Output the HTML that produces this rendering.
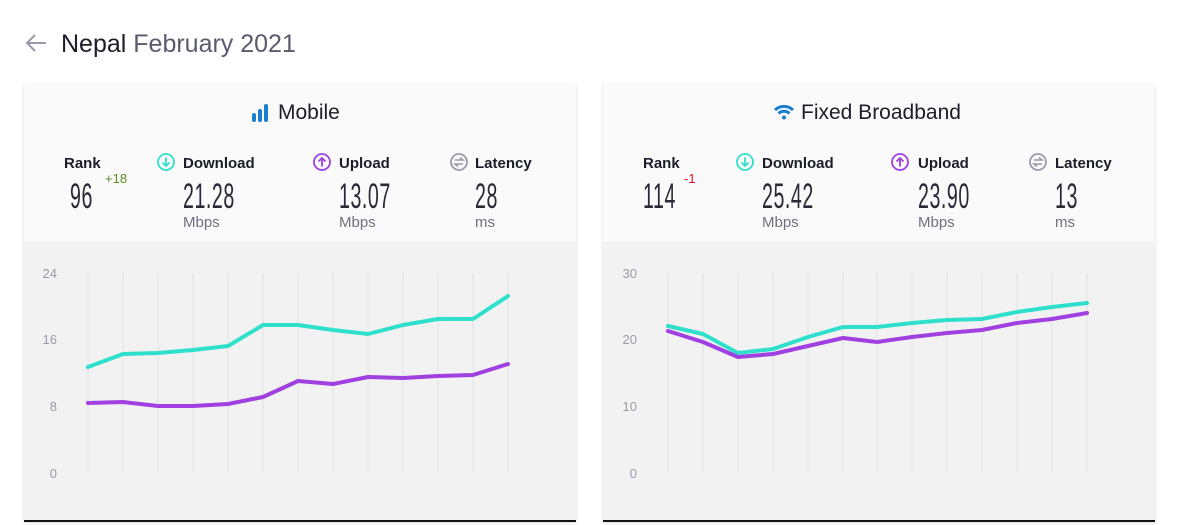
<!DOCTYPE html>
<html><head><meta charset="utf-8"><style>
*{margin:0;padding:0;box-sizing:border-box}
body{width:1179px;height:525px;background:#fff;font-family:"Liberation Sans",sans-serif;position:relative;overflow:hidden}
.a{position:absolute;white-space:nowrap}
.card{position:absolute;top:84px;width:552px;height:438px;background:#fafafa;box-shadow:0 1px 3px rgba(0,0,0,.15);border-bottom:2px solid #111}
.gray{position:absolute;left:0;top:158px;width:100%;height:278px;background:#f2f2f2}
.title{font-size:21px;color:#1c1c2a}
.lab{font-size:15px;font-weight:bold;color:#1c1c2a}
.num{font-size:35px;color:#2a2a36;transform:scaleX(.56);transform-origin:left top;letter-spacing:1px}
.unit{font-size:15px;color:#6f6f80}
.yl{font-size:12px;color:#9a9aa8;text-align:right;width:30px}
</style></head><body>
<svg class="a" style="left:24px;top:33px" width="24" height="20"><path d="M22 10H3M11 2L3 10L11 18" stroke="#9a9aaa" stroke-width="2" fill="none"/></svg>
<div class="a" style="left:61px;top:30px;font-size:25px;color:#1c1c2a">Nepal <span style="color:#5a5a6e">February 2021</span></div>

<div class="card" style="left:24px"><div class="gray"></div></div>
<div class="card" style="left:603px"><div class="gray"></div></div>

<svg class="a" style="left:0;top:0" width="1179" height="525">
<defs>
<g id="dl"><circle cx="9" cy="9" r="8" fill="none" stroke="#2ee0cc" stroke-width="1.8"/><path d="M9 4.5V13M5.5 9.5L9 13L12.5 9.5" stroke="#2ee0cc" stroke-width="1.8" fill="none"/></g>
<g id="ul"><circle cx="9" cy="9" r="8" fill="none" stroke="#a040e0" stroke-width="1.8"/><path d="M9 13.5V5M5.5 8.5L9 5L12.5 8.5" stroke="#a040e0" stroke-width="1.8" fill="none"/></g>
<g id="lt"><circle cx="9" cy="9" r="8" fill="none" stroke="#9a9aaa" stroke-width="1.8"/><path d="M5 7H13L10 4.5M13 11H5L8 13.5" stroke="#9a9aaa" stroke-width="1.6" fill="none"/></g>
</defs>
<use href="#dl" x="157" y="153"/><use href="#ul" x="313" y="153"/><use href="#lt" x="450" y="153"/>
<use href="#dl" x="736" y="153"/><use href="#ul" x="891" y="153"/><use href="#lt" x="1029" y="153"/>
</svg>

<svg class="a" style="left:251px;top:103px" width="20" height="20"><rect x="1" y="10" width="4" height="9" rx="2" fill="#1a7fd0"/><rect x="7" y="6" width="4" height="13" rx="2" fill="#1a7fd0"/><rect x="13" y="1" width="4" height="18" rx="2" fill="#1a7fd0"/></svg>
<div class="a title" style="left:278px;top:101px">Mobile</div>
<div class="a lab" style="left:64px;top:155px">Rank</div>
<div class="a num" style="left:70px;top:177px">96</div>
<div class="a" style="left:105px;top:171px;font-size:13px;color:#5a8a20">+18</div>
<div class="a lab" style="left:183px;top:155px">Download</div>
<div class="a num" style="left:183px;top:177px">21.28</div>
<div class="a unit" style="left:183px;top:214px">Mbps</div>
<div class="a lab" style="left:339px;top:155px">Upload</div>
<div class="a num" style="left:339px;top:177px">13.07</div>
<div class="a unit" style="left:339px;top:214px">Mbps</div>
<div class="a lab" style="left:475px;top:155px">Latency</div>
<div class="a num" style="left:475px;top:177px">28</div>
<div class="a unit" style="left:475px;top:214px">ms</div>

<svg class="a" style="left:774px;top:104px" width="20" height="16"><path d="M1 6 A13 13 0 0 1 19 6" stroke="#1a7fd0" stroke-width="3" fill="none"/><path d="M4.5 9.5 A8 8 0 0 1 15.5 9.5" stroke="#1a7fd0" stroke-width="3" fill="none"/><circle cx="10" cy="13.5" r="2" fill="#1a7fd0"/></svg>
<div class="a title" style="left:801px;top:101px">Fixed Broadband</div>
<div class="a lab" style="left:643px;top:155px">Rank</div>
<div class="a num" style="left:643px;top:177px">114</div>
<div class="a" style="left:684px;top:171px;font-size:13px;color:#e0102a">-1</div>
<div class="a lab" style="left:762px;top:155px">Download</div>
<div class="a num" style="left:762px;top:177px">25.42</div>
<div class="a unit" style="left:762px;top:214px">Mbps</div>
<div class="a lab" style="left:918px;top:155px">Upload</div>
<div class="a num" style="left:918px;top:177px">23.90</div>
<div class="a unit" style="left:918px;top:214px">Mbps</div>
<div class="a lab" style="left:1055px;top:155px">Latency</div>
<div class="a num" style="left:1055px;top:177px">13</div>
<div class="a unit" style="left:1055px;top:214px">ms</div>

<svg class="a" style="left:0;top:0" width="1179" height="525">
<g stroke="#e2e2e2" stroke-width="1">
<path d="M88 273V473M123 273V473M158 273V473M193 273V473M228 273V473M263 273V473M298 273V473M333 273V473M368 273V473M403 273V473M438 273V473M473 273V473M508 273V473"/>
<path d="M668 273V473M703 273V473M738 273V473M773 273V473M808 273V473M843 273V473M877 273V473M912 273V473M947 273V473M982 273V473M1017 273V473M1052 273V473M1087 273V473"/>
</g>
<g font-family="Liberation Sans" font-size="13" fill="#9a9aa8" text-anchor="end">
<text x="57" y="278">24</text><text x="57" y="344">16</text><text x="57" y="411">8</text><text x="57" y="478">0</text>
<text x="637" y="278">30</text><text x="637" y="344">20</text><text x="637" y="411">10</text><text x="637" y="478">0</text>
</g>
<g fill="none" stroke-width="4" stroke-linejoin="round" stroke-linecap="round">
<polyline stroke="#2ee0cc" points="88,367 123,354 158,353 193,350 228,346 263,325 298,325 333,330 368,334 403,325 438,319 473,319 508,296"/>
<polyline stroke="#a040e0" points="88,403 123,402 158,406 193,406 228,404 263,397 298,381 333,384 368,377 403,378 438,376 473,375 508,364"/>
<polyline stroke="#2ee0cc" points="668,326 703,334 738,353 773,349 808,337 843,327 877,327 912,323 947,320 982,319 1017,312 1052,307 1087,303"/>
<polyline stroke="#a040e0" points="668,331 703,342 738,357 773,354 808,346 843,338 877,342 912,337 947,333 982,330 1017,323 1052,319 1087,313"/>
</g>
</svg>
</body></html>
